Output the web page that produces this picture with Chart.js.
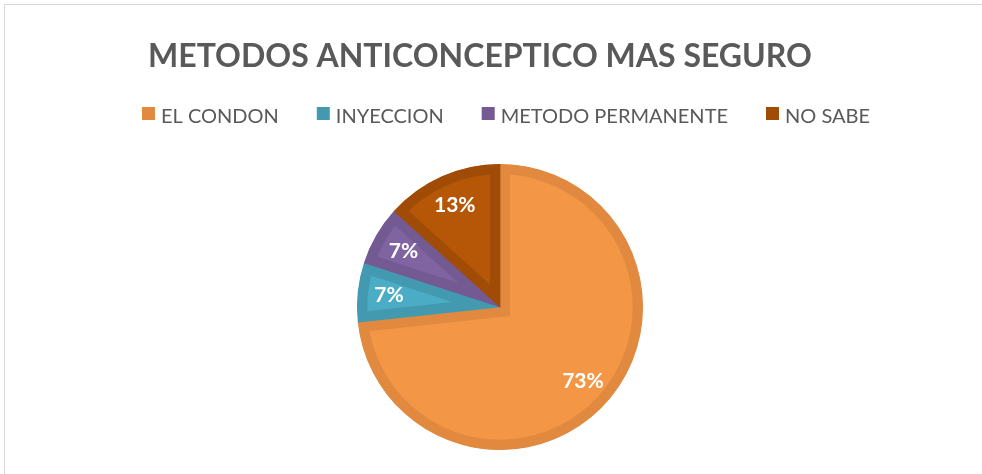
<!DOCTYPE html>
<html lang="es">
<head>
<meta charset="UTF-8">
<title>Metodos anticonceptivos</title>
<script src="https://cdn.jsdelivr.net/npm/chart.js@4.4.0/dist/chart.umd.min.js"></script>
<style>
  html, body { margin: 0; padding: 0; background: #fff; overflow: hidden; }
  #wrap { position: relative; width: 982px; height: 474px; }
  #frame { position: absolute; left: 4px; top: 4px; width: 1000px; height: 500px; border: 1px solid #d9d9d9; }
  canvas { position: absolute; left: 0; top: 0; }
</style>
</head>
<body>
<div id="wrap">
  <div id="frame"></div>
  <canvas id="pie" width="982" height="474"></canvas>
</div>
<script>
const titulo = 'METODOS ANTICONCEPTICO MAS SEGURO';
const categorias = ['EL CONDON', 'INYECCION', 'METODO PERMANENTE', 'NO SABE'];
const porcentajes = [73.3, 6.7, 6.7, 13.3];
const relleno = ['#F39747', '#4BACC6', '#8064A2', '#B65708'];
const borde = ['#E0893F', '#4399B0', '#745A92', '#A04C07'];

const FUENTE = 'Lato, "Open Sans", sans-serif';
const GRIS = '#595959';

// title + legend drawn by hand so they sit where the original has them
const cabecera = {
    id: 'cabecera',
    afterDraw(chart) {
        const ctx = chart.ctx;
        ctx.save();
        ctx.fillStyle = GRIS;
        ctx.font = 'bold 32px ' + FUENTE;
        ctx.textAlign = 'center';
        ctx.textBaseline = 'alphabetic';
        ctx.fillText(titulo, 480, 67);

        ctx.font = '20px ' + FUENTE;
        ctx.textAlign = 'left';
        let x = 142;
        for (let i = 0; i < categorias.length; i++) {
            ctx.fillStyle = borde[i];
            ctx.fillRect(x, 107, 13, 13);
            ctx.fillStyle = GRIS;
            ctx.fillText(categorias[i], x + 19, 123);
            x += 19 + ctx.measureText(categorias[i]).width + 38;
        }
        ctx.restore();
    }
};

// percentage labels inside the slices
const etiquetas = {
    id: 'etiquetas',
    afterDatasetsDraw(chart) {
        const ctx = chart.ctx;
        const meta = chart.getDatasetMeta(0);
        const total = porcentajes.reduce((a, b) => a + b, 0);
        ctx.save();
        ctx.font = 'bold 21px ' + FUENTE;
        ctx.fillStyle = '#ffffff';
        ctx.textAlign = 'center';
        ctx.textBaseline = 'middle';
        meta.data.forEach((arc, i) => {
            const p = arc.getProps(['x', 'y', 'startAngle', 'endAngle', 'outerRadius'], true);
            const mid = (p.startAngle + p.endAngle) / 2;
            const r = p.outerRadius * 0.78;
            const txt = Math.round(porcentajes[i] / total * 100) + '%';
            ctx.fillText(txt, p.x + Math.cos(mid) * r, p.y + Math.sin(mid) * r);
        });
        ctx.restore();
    }
};

new Chart(document.getElementById('pie'), {
    type: 'pie',
    data: {
        labels: categorias,
        datasets: [{
            data: porcentajes,
            backgroundColor: relleno,
            borderColor: borde,
            borderWidth: 10,
            borderAlign: 'inner',
            borderJoinStyle: 'miter',
            hoverOffset: 0
        }]
    },
    options: {
        responsive: false,
        animation: false,
        devicePixelRatio: 1,
        radius: 143,
        layout: { padding: { left: 357, right: 339, top: 164, bottom: 24 } },
        plugins: {
            legend: { display: false },
            title: { display: false },
            tooltip: { enabled: false }
        }
    },
    plugins: [etiquetas, cabecera]
});
</script>
</body>
</html>
